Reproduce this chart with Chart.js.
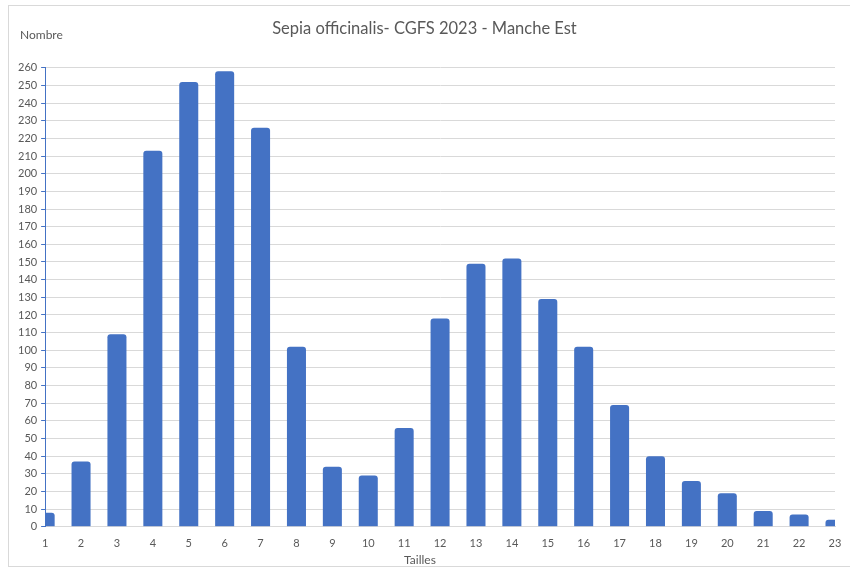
<!DOCTYPE html>
<html>
<head>
<meta charset="utf-8">
<script src="https://cdn.jsdelivr.net/npm/chart.js@4/dist/chart.umd.min.js"></script>
<style>
  html, body { margin: 0; padding: 0; background: #fff; }
  #wrap { position: relative; width: 850px; height: 572px; }
  #frame { position: absolute; left: 8px; top: 5px; width: 860px; height: 562px; border: 1px solid #d9d9d9; box-sizing: border-box; }
  canvas { position: absolute; left: 0; top: 0; }
</style>
</head>
<body>
<div id="wrap">
  <div id="frame"></div>
  <canvas id="chart" width="850" height="572"></canvas>
</div>
<script>
const tailles = ["1","2","3","4","5","6","7","8","9","10","11","12","13","14","15","16","17","18","19","20","21","22","23"];
const nombres = [8, 37, 109, 213, 252, 258, 226, 102, 34, 29, 56, 118, 149, 152, 129, 102, 69, 40, 26, 19, 9, 7, 4];

const titre = "Sepia officinalis- CGFS 2023 - Manche Est";
const titreY = "Nombre";
const titreX = "Tailles";

const grey = "#595959";
const blue = "#4472c4";

// titres d'axes places comme dans l'original
const axisLabels = {
    id: "axisLabels",
    afterDraw(chart) {
        const ctx = chart.ctx;
        ctx.save();
        ctx.font = "12px Lato";
        ctx.fillStyle = grey;
        ctx.textBaseline = "middle";
        ctx.fillText(titreY, 20, 35);
        ctx.textAlign = "center";
        ctx.fillText(titreX, 420, 560);
        ctx.restore();
    }
};

new Chart(document.getElementById("chart"), {
    type: "bar",
    data: {
        labels: tailles,
        datasets: [{
            data: nombres,
            backgroundColor: blue,
            borderRadius: { topLeft: 3, topRight: 3 },
            borderSkipped: "bottom",
            categoryPercentage: 1,
            barPercentage: 0.53
        }]
    },
    options: {
        responsive: false,
        animation: false,
        layout: { padding: { left: 14, right: 15, top: 19, bottom: 20 } },
        plugins: {
            legend: { display: false },
            tooltip: { enabled: false },
            title: {
                display: true,
                text: titre,
                color: grey,
                font: { family: "Lato", size: 16.5, weight: "normal" },
                padding: { top: 0, bottom: 29 }
            }
        },
        scales: {
            x: {
                offset: false,
                grid: { display: false },
                border: { display: true, color: "#d9d9d9" },
                ticks: { color: grey, font: { family: "Lato", size: 11 }, padding: 2, maxRotation: 0 }
            },
            y: {
                min: 0,
                max: 260,
                grid: { color: "#d9d9d9", tickColor: blue, tickLength: 4 },
                border: { display: true, color: blue },
                ticks: { stepSize: 10, color: grey, font: { family: "Lato", size: 11 }, padding: 4 }
            }
        }
    },
    plugins: [axisLabels]
});
</script>
</body>
</html>
